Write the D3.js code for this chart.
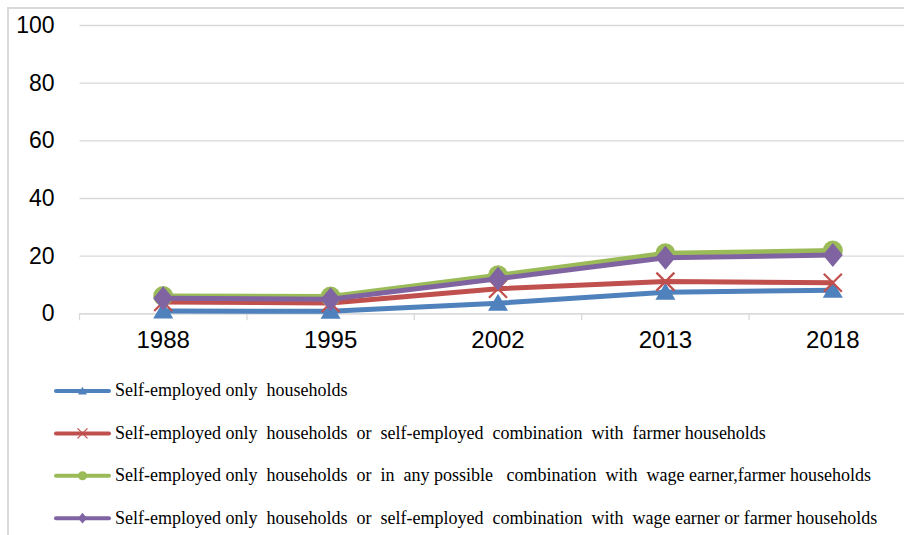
<!DOCTYPE html>
<html>
<head>
<meta charset="utf-8">
<script src="https://cdn.jsdelivr.net/npm/d3@7"></script>
<style>
  body { margin: 0; background: #fff; }
  svg { display: block; }
</style>
</head>
<body>
<svg id="chart"></svg>
<script>
// data
var years = ["1988", "1995", "2002", "2013", "2018"];
var selfOnly = [0.8, 0.7, 3.5, 7.3, 8.0];
var selfOrFarmer = [3.9, 3.6, 8.5, 11.0, 10.6];
var anyCombination = [6.0, 5.8, 13.2, 20.8, 21.8];
var wageOrFarmer = [5.2, 4.9, 12.0, 19.3, 20.2];
var yTicks = [0, 20, 40, 60, 80, 100];
var seriesNames = [
    "Self-employed only  households",
    "Self-employed only  households  or  self-employed  combination  with  farmer households",
    "Self-employed only  households  or  in  any possible   combination  with  wage earner,farmer households",
    "Self-employed only  households  or  self-employed  combination  with  wage earner or farmer households"
];

var series = [
    { name: seriesNames[0], values: selfOnly, color: "#4f81bd", marker: "triangle" },
    { name: seriesNames[1], values: selfOrFarmer, color: "#c0504d", marker: "x" },
    { name: seriesNames[2], values: anyCombination, color: "#9bbb59", marker: "circle" },
    { name: seriesNames[3], values: wageOrFarmer, color: "#8064a2", marker: "diamond" }
];

var svgWidth = 904, svgHeight = 535;
var svg = d3.select("#chart")
    .attr("width", svgWidth)
    .attr("height", svgHeight);

// outer chart border (runs off the picture on the right and bottom)
svg.append("rect")
    .attr("x", 8).attr("y", 8)
    .attr("width", 960).attr("height", 600)
    .attr("fill", "none")
    .attr("stroke", "#d9d9d9")
    .attr("stroke-width", 2);

var plotLeft = 79.5, plotRight = 916.5, plotTop = 25, plotBottom = 313.3;

//scales
var x = d3.scaleBand().domain(years).range([plotLeft, plotRight]);
var y = d3.scaleLinear().domain([0, 100]).range([plotBottom, plotTop]);

// gridlines + y labels
var yAxis = svg.append("g")
    .attr("transform", "translate(" + plotLeft + ",0)")
    .call(d3.axisLeft(y).tickValues(yTicks).tickSize(-(plotRight - plotLeft)).tickPadding(25));
yAxis.select(".domain").remove();
yAxis.selectAll(".tick line").attr("stroke", "#d9d9d9").attr("stroke-width", 1.3);
yAxis.selectAll(".tick text")
    .attr("fill", "#000")
    .style("font-family", "'Liberation Sans', Arial, sans-serif")
    .style("font-size", "23px");

// x axis with tick marks between categories
var xAxis = svg.append("g")
    .attr("transform", "translate(0," + plotBottom + ")")
    .call(d3.axisBottom(x).tickSize(0).tickPadding(18));
xAxis.select(".domain").attr("stroke", "#d9d9d9").attr("stroke-width", 1.3);
xAxis.selectAll(".tick text")
    .attr("fill", "#000")
    .style("font-family", "'Liberation Sans', Arial, sans-serif")
    .style("font-size", "24px");
xAxis.selectAll(".sep")
    .data(years.concat(["end"]))
    .enter().append("line")
    .attr("class", "sep")
    .attr("x1", function (d, i) { return plotLeft + i * x.bandwidth(); })
    .attr("x2", function (d, i) { return plotLeft + i * x.bandwidth(); })
    .attr("y1", 0).attr("y2", 7)
    .attr("stroke", "#d9d9d9").attr("stroke-width", 1.3);

function cx(i) { return x(years[i]) + x.bandwidth() / 2; }

var line = d3.line()
    .x(function (d, i) { return cx(i); })
    .y(function (d) { return y(d); });

function drawMarker(g, type, color, px, py, s) {
    if (type === "triangle") {
        g.append("path")
            .attr("d", "M" + px + "," + (py - s * 0.95) + "L" + (px + s) + "," + (py + s * 0.75) + "L" + (px - s) + "," + (py + s * 0.75) + "Z")
            .attr("fill", color);
    } else if (type === "x") {
        g.append("path")
            .attr("d", "M" + (px - s) + "," + (py - s) + "L" + (px + s) + "," + (py + s) + "M" + (px + s) + "," + (py - s) + "L" + (px - s) + "," + (py + s))
            .attr("stroke", color).attr("stroke-width", s / 4).attr("fill", "none");
    } else if (type === "circle") {
        g.append("circle").attr("cx", px).attr("cy", py).attr("r", s).attr("fill", color);
    } else {
        g.append("path")
            .attr("d", "M" + px + "," + (py - s * 1.2) + "L" + (px + s) + "," + py + "L" + px + "," + (py + s * 1.2) + "L" + (px - s) + "," + py + "Z")
            .attr("fill", color);
    }
}

// draw lines and markers
series.forEach(function (s) {
    var g = svg.append("g");
    g.append("path")
        .datum(s.values)
        .attr("fill", "none")
        .attr("stroke", s.color)
        .attr("stroke-width", 5)
        .attr("stroke-linejoin", "round")
        .attr("d", line);
    s.values.forEach(function (v, i) {
        drawMarker(g, s.marker, s.color, cx(i), y(v), s.marker === "x" ? 9 : 10);
    });
});

// legend
var legend = svg.append("g");
series.forEach(function (s, i) {
    var ly = 391 + i * 42.4;
    var g = legend.append("g");
    g.append("line")
        .attr("x1", 56).attr("x2", 109)
        .attr("y1", ly).attr("y2", ly)
        .attr("stroke", s.color).attr("stroke-width", 4)
        .attr("stroke-linecap", "round");
    drawMarker(g, s.marker, s.color, 82.5, ly, s.marker === "x" ? 5 : 4.5);
    g.append("text")
        .attr("x", 115).attr("y", ly)
        .attr("dy", "0.3em")
        .attr("xml:space", "preserve")
        .style("white-space", "pre")
        .style("font-family", "'Liberation Serif', 'Times New Roman', serif")
        .style("font-size", "18px")
        .attr("fill", "#000")
        .text(s.name);
});
</script>
</body>
</html>
